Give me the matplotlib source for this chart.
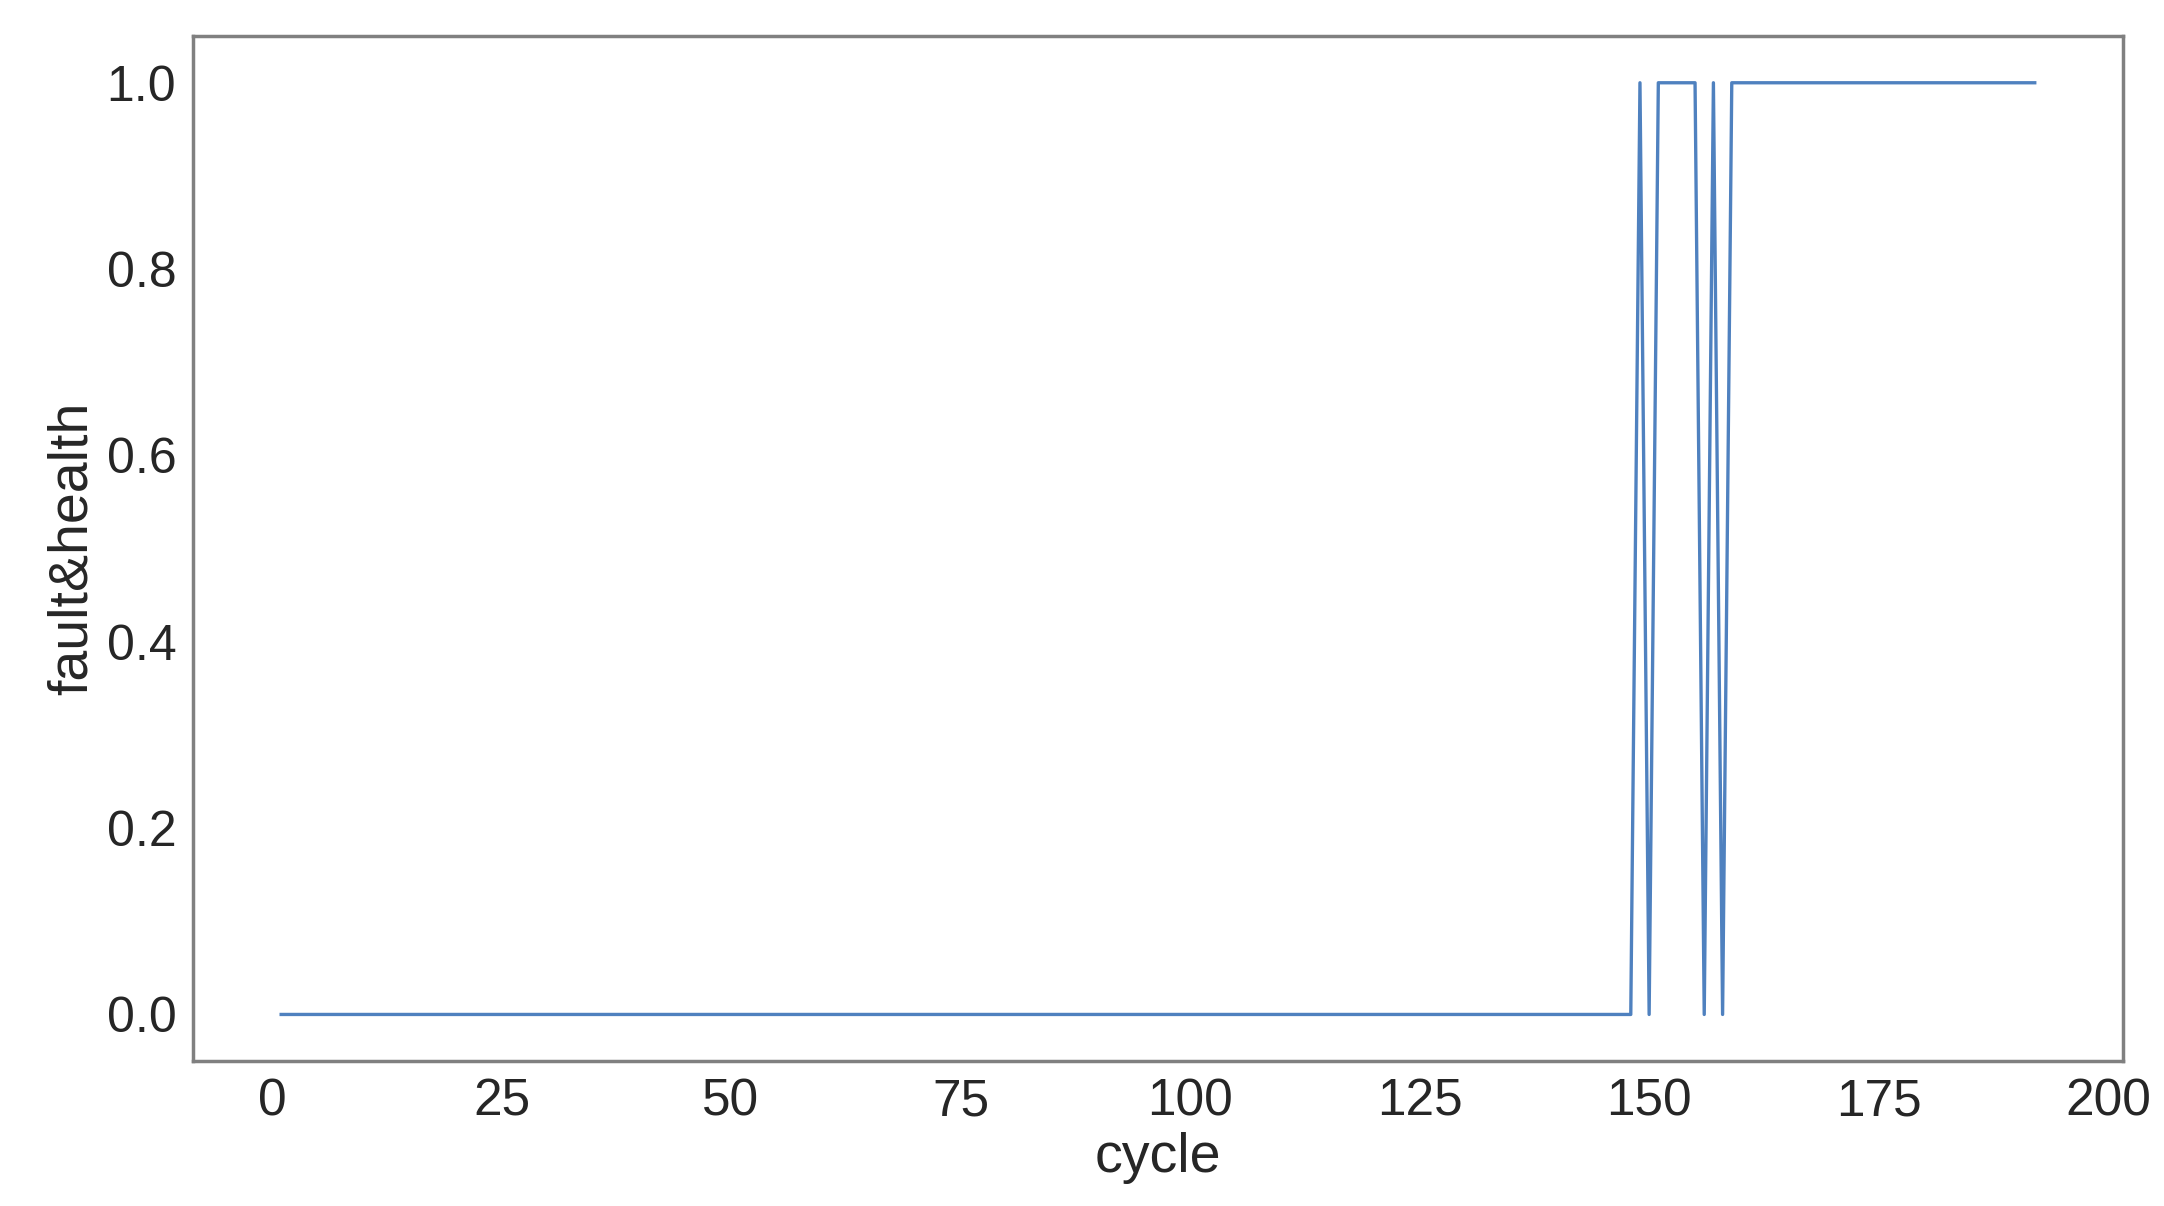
import matplotlib
matplotlib.use("Agg")
import matplotlib.pyplot as plt

# Data
cycles = list(range(1, 193))
fault_health = [0] * 148 + [1] + [0] + [1] * 5 + [0] + [1] + [0] + [1] * 34
xticks = [0, 25, 50, 75, 100, 125, 150, 175, 200]
yticks = [0.0, 0.2, 0.4, 0.6, 0.8, 1.0]

plt.rcParams['font.family'] = ['Liberation Sans', 'DejaVu Sans']

fig = plt.figure(figsize=(21.64, 12.06), dpi=100)
ax = fig.add_axes([0.0892, 0.1202, 0.8918, 0.8498])
ax.plot(cycles, fault_health, color='#4f81bf', linewidth=2.4)

ax.set_xlim(-8.6, 201.6)
ax.set_ylim(-0.05, 1.05)
ax.set_xticks(xticks)
ax.set_xticklabels([str(t) for t in xticks])
ax.set_yticks(yticks)
ax.set_yticklabels([f"{t:.1f}" for t in yticks])
ax.tick_params(axis='x', length=0, labelsize=37, colors='#262626', pad=12)
ax.tick_params(axis='y', length=0, labelsize=36, colors='#262626', pad=12)
ax.set_xlabel('cycle', fontsize=40, color='#262626', labelpad=4)
ax.set_ylabel('fault&health', fontsize=40, color='#262626', labelpad=6)
for s in ax.spines.values():
    s.set_color('#808080')
    s.set_linewidth(2.5)

fig.savefig('out.png', dpi=100, facecolor='white')
